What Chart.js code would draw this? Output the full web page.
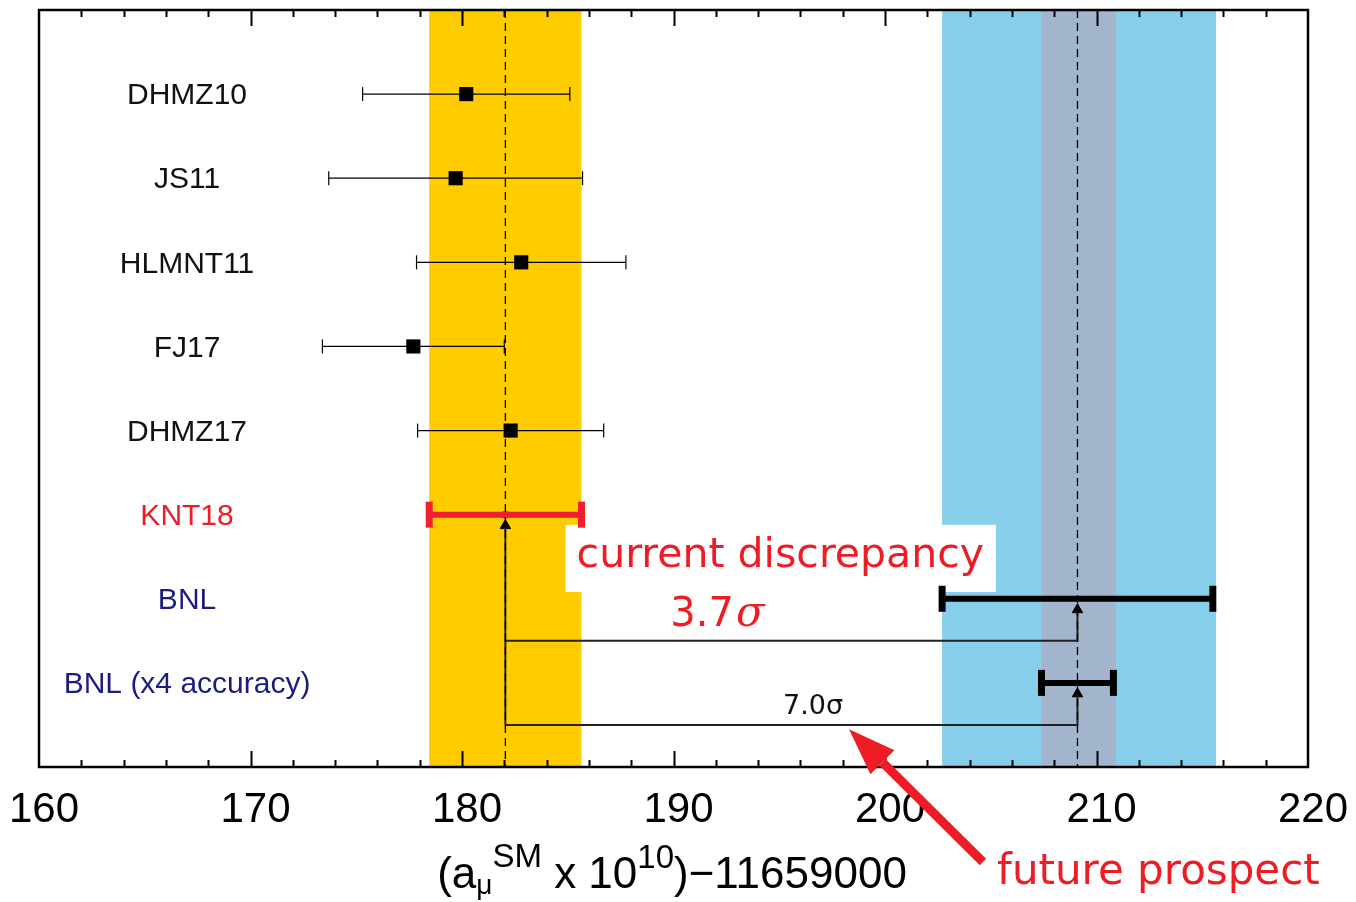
<!DOCTYPE html>
<html>
<head>
<meta charset="utf-8">
<script src="https://cdn.jsdelivr.net/npm/chart.js@4"></script>
<style>
  body { margin: 0; background: #fff; }
</style>
</head>
<body>
<canvas id="chart" width="1356" height="902"></canvas>
<script>
var labels = ['DHMZ10', 'JS11', 'HLMNT11', 'FJ17', 'DHMZ17', 'KNT18', 'BNL', 'BNL (x4 accuracy)'];
var centers = [180.2, 179.7, 182.8, 177.7, 182.3, 182.05, 209.1, 209.1];
var errors = [4.9, 6.0, 4.95, 4.3, 4.4, 3.6, 6.4, 1.7];
var labelColors = ['#111', '#111', '#111', '#111', '#111', '#ee1c25', '#1c1c80', '#1c1c80'];

// shaded bands
var kntBand = [178.45, 185.65];
var bnlBand = [202.7, 215.65];
var futureBand = [207.4, 210.9];

var xTicks = [160, 170, 180, 190, 200, 210, 220];

var KNT = centers[5], BNL = centers[6];

var datasets = [];

// dashed lines through the two central values
[KNT, BNL].forEach(function (c) {
	datasets.push({
		data: [{x: c, y: -1}, {x: c, y: 8}],
		showLine: true, borderColor: '#000', borderWidth: 1.3, borderDash: [8, 5],
		pointRadius: 0
	});
});

// connector lines for the discrepancies
datasets.push({
	data: [{x: KNT, y: 7.5}, {x: KNT, y: 5.15}],
	showLine: true, borderColor: '#222', borderWidth: 2, pointRadius: 0
});
datasets.push({
	data: [{x: KNT, y: 6.5}, {x: BNL, y: 6.5}, {x: BNL, y: 6.15}],
	showLine: true, borderColor: '#222', borderWidth: 2, pointRadius: 0
});
datasets.push({
	data: [{x: KNT, y: 7.5}, {x: BNL, y: 7.5}, {x: BNL, y: 7.15}],
	showLine: true, borderColor: '#222', borderWidth: 2, pointRadius: 0
});
// arrow heads
datasets.push({
	data: [{x: KNT, y: 5.13}, {x: BNL, y: 6.13}, {x: BNL, y: 7.13}],
	pointStyle: 'triangle', pointRadius: 6, backgroundColor: '#000', borderColor: '#000', borderWidth: 1
});

// error bars
centers.forEach(function (c, i) {
	var thick = i >= 5;
	var col = i == 5 ? '#ee2030' : '#000';
	datasets.push({
		data: [{x: c - errors[i], y: i}, {x: c + errors[i], y: i}],
		showLine: true,
		borderColor: col,
		borderWidth: thick ? 6 : 1.2,
		pointStyle: 'line',
		pointRotation: 90,
		pointRadius: thick ? 13 : 7,
		pointBorderWidth: thick ? 7 : 1.2,
		pointBorderColor: col,
		pointBackgroundColor: col
	});
});

// central value markers
datasets.push({
	data: centers.slice(0, 5).map(function (c, i) { return {x: c, y: i}; }),
	pointStyle: 'rect', pointRadius: 10, backgroundColor: '#000', borderColor: '#000', borderWidth: 0
});
datasets.push({
	data: [{x: KNT, y: 5}],
	pointStyle: 'circle', pointRadius: 4, backgroundColor: '#ee2030', borderWidth: 0
});

// texts and decorations
var overlay = {
	id: 'overlay',
	beforeDatasetsDraw: function (chart) {
		var ctx = chart.ctx, a = chart.chartArea;
		var x = chart.scales.x, y = chart.scales.y;
		ctx.save();
		function band(r, col) {
			var x0 = x.getPixelForValue(r[0]), x1 = x.getPixelForValue(r[1]);
			ctx.fillStyle = col;
			ctx.fillRect(x0, a.top, x1 - x0, a.bottom - a.top);
		}
		band(kntBand, '#ffcc00');
		band(bnlBand, '#87ceeb');
		band(futureBand, '#a2b5cd');

		// white box behind "current discrepancy"
		var bx0 = x.getPixelForValue(184.9), bx1 = x.getPixelForValue(205.25);
		var by0 = y.getPixelForValue(5.12), by1 = y.getPixelForValue(5.92);
		ctx.fillStyle = '#fff';
		ctx.fillRect(bx0, by0, bx1 - bx0, by1 - by0);
		ctx.fillStyle = '#ee1c25';
		ctx.font = '41px "DejaVu Sans"';
		ctx.textAlign = 'center';
		ctx.textBaseline = 'middle';
		ctx.fillText('current discrepancy', x.getPixelForValue(195.05), y.getPixelForValue(5.5));
		ctx.restore();
	},
	afterDatasetsDraw: function (chart) {
		var ctx = chart.ctx, a = chart.chartArea;
		var x = chart.scales.x, y = chart.scales.y;
		ctx.save();

		// frame
		ctx.strokeStyle = '#000';
		ctx.lineWidth = 2.5;
		ctx.strokeRect(a.left, a.top, a.right - a.left, a.bottom - a.top);

		// inward ticks, top and bottom
		ctx.lineWidth = 2;
		for (var v = 162; v < 220; v += 2) {
			var px = Math.round(x.getPixelForValue(v)) + 0.5;
			var len = v % 10 === 0 ? 16 : 7;
			ctx.beginPath();
			ctx.moveTo(px, a.bottom); ctx.lineTo(px, a.bottom - len);
			ctx.moveTo(px, a.top); ctx.lineTo(px, a.top + len);
			ctx.stroke();
		}

		// row labels
		ctx.font = '30px "Liberation Sans"';
		ctx.textAlign = 'center';
		ctx.textBaseline = 'middle';
		labels.forEach(function (l, i) {
			ctx.fillStyle = labelColors[i];
			ctx.fillText(l, x.getPixelForValue(167), y.getPixelForValue(i) + 2);
		});

		// 3.7 sigma
		ctx.fillStyle = '#ee1c25';
		ctx.textAlign = 'left';
		ctx.textBaseline = 'alphabetic';
		var sx = x.getPixelForValue(189.85), sy = y.getPixelForValue(6.14) + 15;
		ctx.font = '40px "DejaVu Sans"';
		ctx.fillText('3.7', sx, sy);
		var w = ctx.measureText('3.7').width;
		ctx.font = 'italic 42px "DejaVu Serif"';
		ctx.fillText('σ', sx + w + 2, sy);

		// 7.0 sigma
		ctx.fillStyle = '#111';
		ctx.font = '27px "DejaVu Sans"';
		ctx.textAlign = 'center';
		ctx.fillText('7.0σ', x.getPixelForValue(196.6), y.getPixelForValue(7.25) + 10);

		// future prospect + red arrow
		ctx.fillStyle = '#ee1c25';
		ctx.font = '42px "DejaVu Sans"';
		ctx.textAlign = 'left';
		ctx.fillText('future prospect', x.getPixelForValue(205.3), y.getPixelForValue(9.22) + 14);

		var tx = x.getPixelForValue(198.3), ty = y.getPixelForValue(7.55);
		var fx = x.getPixelForValue(204.63), fy = y.getPixelForValue(9.13);
		var ang = Math.atan2(ty - fy, tx - fx);
		var hl = 47, hw = 17;
		var bxp = tx - hl * Math.cos(ang), byp = ty - hl * Math.sin(ang);
		ctx.strokeStyle = '#ee1c25';
		ctx.lineWidth = 9;
		ctx.beginPath();
		ctx.moveTo(fx, fy); ctx.lineTo(bxp, byp);
		ctx.stroke();
		ctx.beginPath();
		ctx.moveTo(tx, ty);
		ctx.lineTo(bxp + hw * Math.sin(ang), byp - hw * Math.cos(ang));
		ctx.lineTo(bxp - hw * Math.sin(ang), byp + hw * Math.cos(ang));
		ctx.closePath();
		ctx.fill();

		// axis title
		ctx.fillStyle = '#000';
		var big = '44px "Liberation Sans"', small = '33px "Liberation Sans"', sub = '28px "Liberation Sans"';
		var parts = [
			{t: '(a', f: big, dy: 0},
			{t: 'μ', f: sub, dy: 6},
			{t: 'SM', f: small, dy: -21},
			{t: ' x 10', f: big, dy: 0},
			{t: '10', f: small, dy: -20},
			{t: ')\u221211659000', f: big, dy: 0}
		];
		var total = 0;
		parts.forEach(function (p) { ctx.font = p.f; p.w = ctx.measureText(p.t).width; total += p.w; });
		var cx = 672 - total / 2, base = 888;
		ctx.textAlign = 'left';
		parts.forEach(function (p) {
			ctx.font = p.f;
			ctx.fillText(p.t, cx, base + p.dy);
			cx += p.w;
		});
		ctx.restore();
	}
};

var chart = new Chart(document.getElementById('chart'), {
	type: 'scatter',
	data: { datasets: datasets },
	options: {
		responsive: false,
		animation: false,
		layout: { autoPadding: false, padding: { left: 39, right: 48, top: 10, bottom: 0 } },
		plugins: { legend: { display: false }, tooltip: { enabled: false } },
		scales: {
			x: {
				type: 'linear', min: 160, max: 220,
				grid: { display: false },
				border: { display: false },
				afterBuildTicks: function (s) {
					s.ticks = xTicks.map(function (v) { return {value: v}; });
				},
				afterFit: function (s) {
					s.height = 135;
					s.paddingLeft = 0; s.paddingRight = 0; s.paddingTop = 0; s.paddingBottom = 0;
				},
				ticks: {
					autoSkip: false, maxRotation: 0, padding: 10, labelOffset: 5, color: '#000',
					font: { family: 'Liberation Sans', size: 42 }
				}
			},
			y: { type: 'linear', min: -1, max: 8, reverse: true, display: false }
		}
	},
	plugins: [overlay]
});
</script>
</body>
</html>
